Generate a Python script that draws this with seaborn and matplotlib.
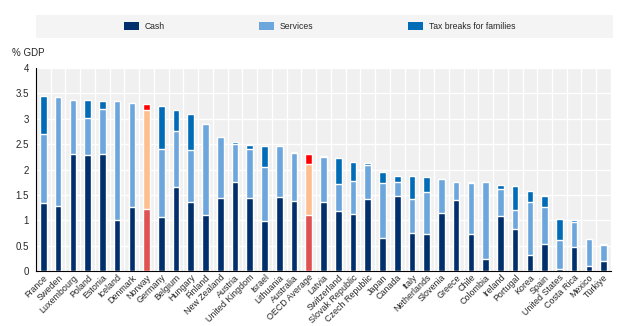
import numpy as np
import pandas as pd
import matplotlib
matplotlib.use("Agg")
import matplotlib.pyplot as plt
from matplotlib.patches import Patch, Rectangle
from matplotlib.ticker import FixedLocator
import seaborn as sns

countries = ["France", "Sweden", "Luxembourg", "Poland", "Estonia", "Iceland", "Denmark",
             "Norway", "Germany", "Belgium", "Hungary", "Finland", "New Zealand", "Austria",
             "United Kingdom", "Israel", "Lithuania", "Australia", "OECD Average", "Latvia",
             "Switzerland", "Slovak Republic", "Czech Republic", "Japan", "Canada", "Italy",
             "Netherlands", "Slovenia", "Greece", "Chile", "Colombia", "Ireland", "Portugal",
             "Korea", "Spain", "United States", "Costa Rica", "Mexico", "Türkiye"]

cash = [1.33, 1.28, 2.30, 2.29, 2.31, 1.01, 1.26, 1.22, 1.07, 1.66, 1.35, 1.10, 1.43, 1.76,
        1.43, 0.98, 1.46, 1.37, 1.11, 1.36, 1.18, 1.12, 1.42, 0.65, 1.47, 0.75, 0.72, 1.15,
        1.39, 0.72, 0.23, 1.09, 0.82, 0.31, 0.54, 0.04, 0.48, 0.09, 0.19]
services = [1.38, 2.15, 1.07, 0.72, 0.89, 2.34, 2.05, 1.96, 1.34, 1.10, 1.04, 1.79, 1.22, 0.74,
            0.97, 1.07, 1.00, 0.96, 0.99, 0.89, 0.54, 0.66, 0.66, 1.09, 0.28, 0.66, 0.84, 0.67,
            0.37, 1.02, 1.52, 0.53, 0.38, 1.04, 0.72, 0.57, 0.48, 0.53, 0.33]
tax_breaks = [0.74, 0.00, 0.00, 0.36, 0.15, 0.00, 0.00, 0.11, 0.84, 0.42, 0.71, 0.00, 0.00, 0.04,
              0.09, 0.41, 0.00, 0.02, 0.20, 0.02, 0.50, 0.36, 0.04, 0.21, 0.12, 0.46, 0.30, 0.00,
              0.00, 0.02, 0.00, 0.07, 0.48, 0.22, 0.21, 0.42, 0.05, 0.00, 0.02]

series_labels = ["Cash", "Services", "Tax breaks for families"]
highlighted = ["Norway", "OECD Average"]

base_colors = ["#002f6c", "#6ca6dc", "#006bb6"]
highlight_colors = ["#e05252", "#fdbf8f", "#ff0000"]

df = pd.DataFrame({"country": countries, "cash": cash,
                   "services": services, "tax": tax_breaks})
df["level1"] = df["cash"]
df["level2"] = df["cash"] + df["services"]
df["level3"] = df["level2"] + df["tax"]

sns.set_style("white")
plt.rcParams["font.family"] = ["Liberation Sans", "DejaVu Sans"]

fig = plt.figure(figsize=(6.26, 3.26), dpi=100)
ax = fig.add_axes([0.0575, 0.169, 0.9185, 0.622])
ax.set_facecolor("#f0f0f0")

# Draw cumulative totals from the top layer down so the stacks overlap correctly
for level, i in (("level3", 2), ("level2", 1), ("level1", 0)):
    pal = {c: (highlight_colors[i] if c in highlighted else base_colors[i]) for c in countries}
    sns.barplot(data=df, x="country", y=level, hue="country", palette=pal,
                order=countries, hue_order=countries, legend=False,
                width=0.45, saturation=1, ax=ax, zorder=3)

n = len(countries)
ax.set_xlim(-0.5, n - 0.5)
ax.set_ylim(0, 4)
ax.set_yticks(np.arange(0, 4.01, 0.5))
ax.set_yticklabels(["0", "0.5", "1", "1.5", "2", "2.5", "3", "3.5", "4"])
ax.xaxis.set_minor_locator(FixedLocator(np.arange(-0.5, n, 1.0)))
ax.set_xticks(range(n))
ax.set_xticklabels(countries, rotation=45, ha="right", rotation_mode="anchor", fontsize=6.4)
ax.tick_params(axis="x", which="major", length=0, pad=1.5)
ax.tick_params(axis="x", which="minor", length=3, width=0.8, color="black", direction="out")
ax.tick_params(axis="y", which="major", length=3, width=0.8, color="black",
               direction="out", labelsize=7, pad=2)
ax.set_xlabel("")
ax.set_ylabel("")

ax.grid(True, axis="y", which="major", color="white", linewidth=1.0, zorder=0)
ax.grid(True, axis="x", which="minor", color="white", linewidth=1.0, zorder=0)
ax.grid(False, axis="x", which="major")
ax.set_axisbelow(True)

for side in ("top", "right"):
    ax.spines[side].set_visible(False)
for side in ("left", "bottom"):
    ax.spines[side].set_color("black")
    ax.spines[side].set_linewidth(0.8)

fig.text(0.019, 0.837, "% GDP", fontsize=7, va="center", ha="left")

# Legend band across the top
fig.patches.append(Rectangle((36 / 626, 1 - 38 / 326), (613 - 36) / 626, 23 / 326,
                             transform=fig.transFigure, facecolor="#f4f4f4",
                             edgecolor="none", zorder=0))
handles = [Patch(facecolor=c, edgecolor="none") for c in base_colors]
leg = fig.legend(handles, series_labels, loc="center", bbox_to_anchor=(0.5104, 1 - 26.5 / 326),
                 ncol=3, frameon=False, fontsize=6.2, handlelength=1.75, handleheight=1.0,
                 handletextpad=0.7, columnspacing=10.9)

fig.savefig("out.png", dpi=100)
